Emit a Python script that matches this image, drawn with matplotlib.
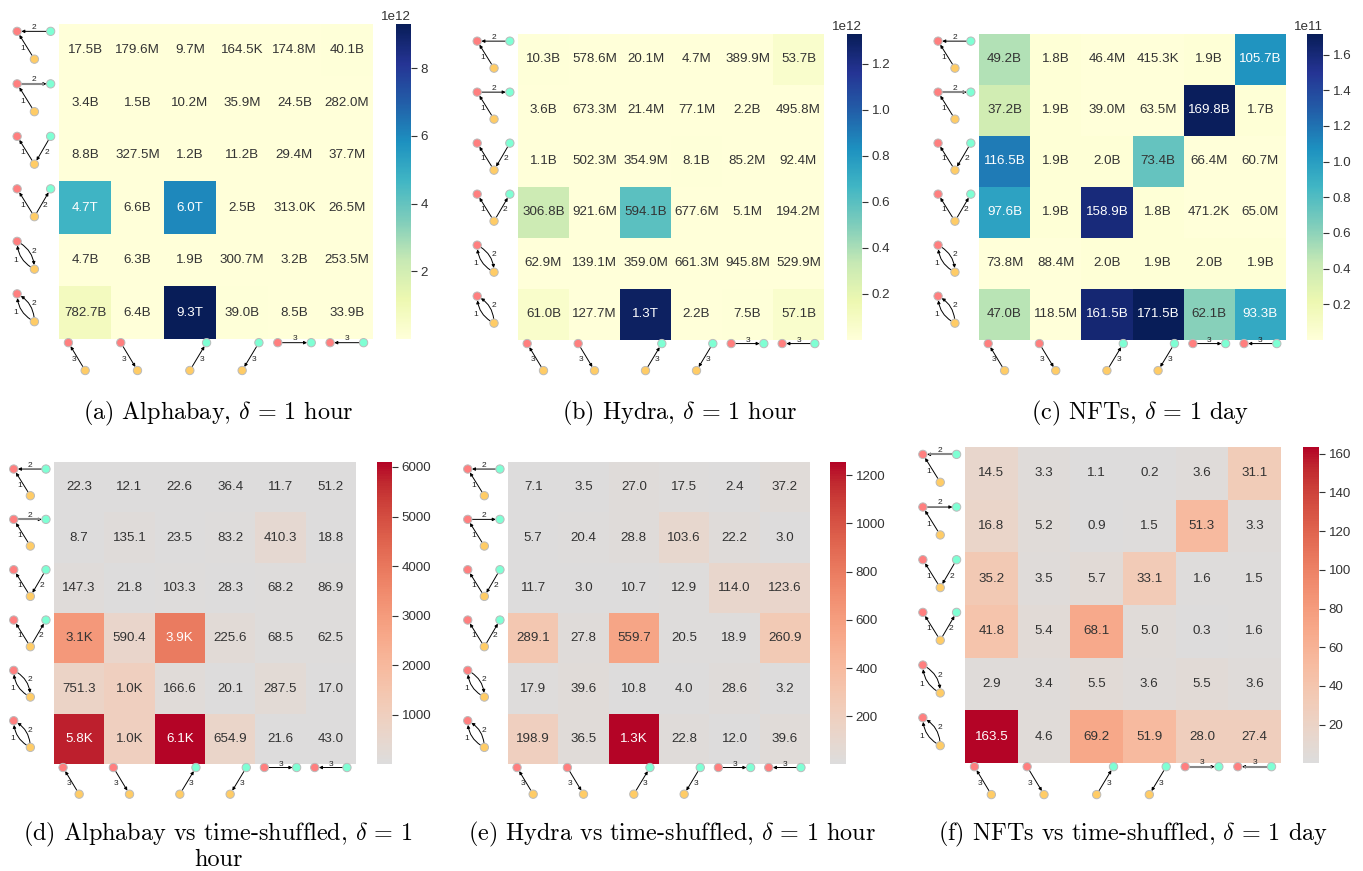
# heatmaps of motif counts, top row raw counts, bottom row vs time-shuffled
import numpy as np
import matplotlib
matplotlib.use('Agg')
import matplotlib.pyplot as plt
import seaborn as sns

plt.rcParams['font.family'] = ['Liberation Sans', 'DejaVu Sans']
plt.rcParams['mathtext.fontset'] = 'cm'
plt.rcParams['axes.formatter.use_mathtext'] = False

alphabay = [['17.5B', '179.6M', '9.7M', '164.5K', '174.8M', '40.1B'],
            ['3.4B', '1.5B', '10.2M', '35.9M', '24.5B', '282.0M'],
            ['8.8B', '327.5M', '1.2B', '11.2B', '29.4M', '37.7M'],
            ['4.7T', '6.6B', '6.0T', '2.5B', '313.0K', '26.5M'],
            ['4.7B', '6.3B', '1.9B', '300.7M', '3.2B', '253.5M'],
            ['782.7B', '6.4B', '9.3T', '39.0B', '8.5B', '33.9B']]
hydra = [['10.3B', '578.6M', '20.1M', '4.7M', '389.9M', '53.7B'],
         ['3.6B', '673.3M', '21.4M', '77.1M', '2.2B', '495.8M'],
         ['1.1B', '502.3M', '354.9M', '8.1B', '85.2M', '92.4M'],
         ['306.8B', '921.6M', '594.1B', '677.6M', '5.1M', '194.2M'],
         ['62.9M', '139.1M', '359.0M', '661.3M', '945.8M', '529.9M'],
         ['61.0B', '127.7M', '1.3T', '2.2B', '7.5B', '57.1B']]
nfts = [['49.2B', '1.8B', '46.4M', '415.3K', '1.9B', '105.7B'],
        ['37.2B', '1.9B', '39.0M', '63.5M', '169.8B', '1.7B'],
        ['116.5B', '1.9B', '2.0B', '73.4B', '66.4M', '60.7M'],
        ['97.6B', '1.9B', '158.9B', '1.8B', '471.2K', '65.0M'],
        ['73.8M', '88.4M', '2.0B', '1.9B', '2.0B', '1.9B'],
        ['47.0B', '118.5M', '161.5B', '171.5B', '62.1B', '93.3B']]
alphabay_sh = [['22.3', '12.1', '22.6', '36.4', '11.7', '51.2'],
               ['8.7', '135.1', '23.5', '83.2', '410.3', '18.8'],
               ['147.3', '21.8', '103.3', '28.3', '68.2', '86.9'],
               ['3.1K', '590.4', '3.9K', '225.6', '68.5', '62.5'],
               ['751.3', '1.0K', '166.6', '20.1', '287.5', '17.0'],
               ['5.8K', '1.0K', '6.1K', '654.9', '21.6', '43.0']]
hydra_sh = [['7.1', '3.5', '27.0', '17.5', '2.4', '37.2'],
            ['5.7', '20.4', '28.8', '103.6', '22.2', '3.0'],
            ['11.7', '3.0', '10.7', '12.9', '114.0', '123.6'],
            ['289.1', '27.8', '559.7', '20.5', '18.9', '260.9'],
            ['17.9', '39.6', '10.8', '4.0', '28.6', '3.2'],
            ['198.9', '36.5', '1.3K', '22.8', '12.0', '39.6']]
nfts_sh = [['14.5', '3.3', '1.1', '0.2', '3.6', '31.1'],
           ['16.8', '5.2', '0.9', '1.5', '51.3', '3.3'],
           ['35.2', '3.5', '5.7', '33.1', '1.6', '1.5'],
           ['41.8', '5.4', '68.1', '5.0', '0.3', '1.6'],
           ['2.9', '3.4', '5.5', '3.6', '5.5', '3.6'],
           ['163.5', '4.6', '69.2', '51.9', '28.0', '27.4']]

# colourbar tops (cell labels are rounded)
top_values = [9.3e12, 1.33e12, 1.715e11, 6100, 1254, 163.5]

captions = ['(a) Alphabay, $\\delta\\,=\\,1$ hour', '(b) Hydra, $\\delta\\,=\\,1$ hour',
            '(c) NFTs, $\\delta\\,=\\,1$ day', '(d) Alphabay vs time-shuffled, $\\delta\\,=\\,1$',
            '(e) Hydra vs time-shuffled, $\\delta\\,=\\,1$ hour', '(f) NFTs vs time-shuffled, $\\delta\\,=\\,1$ day']

RED = '#ff7f7f'
TEAL = '#7fffd4'
ORANGE = '#ffcc66'
W, H = 1363, 871


def to_num(s):
    mult = {'K': 1e3, 'M': 1e6, 'B': 1e9, 'T': 1e12}
    if s[-1] in mult:
        return float(s[:-1]) * mult[s[-1]]
    return float(s)


def box(x0, y0, x1, y1):
    # pixel box to figure fraction
    return [x0 / W, 1 - y1 / H, (x1 - x0) / W, (y1 - y0) / H]


def edge(ax, a, b, label, lpos, rad=0.0, thick=False):
    ax.annotate('', xy=b, xytext=a, annotation_clip=False, zorder=5,
                arrowprops=dict(arrowstyle='-|>,head_length=0.18,head_width=0.09', color='black', lw=0.7,
                                shrinkA=3, shrinkB=3, connectionstyle='arc3,rad=%g' % rad))
    if thick:
        # grey shaft, stops short of the arrow head
        end = b[0] - 0.14 * np.sign(b[0] - a[0])
        ax.plot([a[0], end], [a[1], b[1]], color='#888888', lw=1.5, clip_on=False, zorder=6)
    ax.text(lpos[0], lpos[1], label, fontsize=6, color='#222222', ha='center', va='center',
            clip_on=False, zorder=6)


def nodes(ax, pts, cols):
    ax.scatter([p[0] for p in pts], [p[1] for p in pts], s=36, c=cols, edgecolors='#bbbbbb',
               linewidths=0.7, clip_on=False, zorder=7)


def row_icon(ax, r, i, thick):
    red = (-0.8, r + 0.14)
    teal = (-0.16, r + 0.14)
    org = (-0.47, r + 0.67)
    if i < 2:
        edge(ax, org, red, '1', (-0.69, r + 0.47))
        if i == 0:
            edge(ax, teal, red, '2', (-0.47, r + 0.06), thick=thick == 0)
        else:
            edge(ax, red, teal, '2', (-0.47, r + 0.06), thick=thick == 1)
        nodes(ax, [red, teal, org], [RED, TEAL, ORANGE])
    elif i < 4:
        edge(ax, org, red, '1', (-0.69, r + 0.45))
        if i == 2:
            edge(ax, teal, org, '2', (-0.24, r + 0.45))
        else:
            edge(ax, org, teal, '2', (-0.26, r + 0.45))
        nodes(ax, [red, teal, org], [RED, TEAL, ORANGE])
    else:
        edge(ax, org, red, '1', (-0.83, r + 0.5), rad=-0.3)
        if i == 4:
            edge(ax, red, org, '2', (-0.47, r + 0.33), rad=-0.3)
        else:
            edge(ax, org, red, '2', (-0.47, r + 0.33), rad=0.3)
        nodes(ax, [red, org], [RED, ORANGE])


def col_icon(ax, c, i, thick):
    y_top = 6.07
    y_bot = 6.6
    red = (c + 0.18, y_top)
    teal = (c + 0.82, y_top)
    org = (c + 0.5, y_bot)
    if i == 0:
        edge(ax, org, red, '3', (c + 0.29, 6.39))
        nodes(ax, [red, org], [RED, ORANGE])
    elif i == 1:
        edge(ax, red, org, '3', (c + 0.24, 6.39))
        nodes(ax, [red, org], [RED, ORANGE])
    elif i == 2:
        edge(ax, org, teal, '3', (c + 0.73, 6.39))
        nodes(ax, [teal, org], [TEAL, ORANGE])
    elif i == 3:
        edge(ax, teal, org, '3', (c + 0.73, 6.39))
        nodes(ax, [teal, org], [TEAL, ORANGE])
    elif i == 4:
        edge(ax, red, teal, '3', (c + 0.5, y_top - 0.07), thick=thick)
        nodes(ax, [red, teal], [RED, TEAL])
    else:
        edge(ax, teal, red, '3', (c + 0.5, y_top - 0.07), thick=thick)
        nodes(ax, [red, teal], [RED, TEAL])


# labels, cmap, center, heatmap box, colourbar box, caption centre, row with grey edge
panels = [(alphabay, 'YlGnBu', None, (59, 24, 373, 339), (396, 24, 411, 339), (218, 413), 1),
          (hydra, 'YlGnBu', None, (518, 34, 824, 340), (847, 34, 862, 340), (680, 413), None),
          (nfts, 'YlGnBu', None, (979, 34, 1286, 340), (1307, 34, 1323, 340), (1140, 413), 1),
          (alphabay_sh, 'coolwarm', 0, (54, 462, 356, 764), (377, 462, 392, 764), (218, 834), 1),
          (hydra_sh, 'coolwarm', 0, (508, 462, 810, 764), (830, 462, 846, 764), (672, 834), None),
          (nfts_sh, 'coolwarm', 0, (965, 447, 1281, 763), (1303, 447, 1319, 763), (1133, 834), 0)]

fig = plt.figure(figsize=(W / 100, H / 100), dpi=100)

for k, (labels, cmap, center, hbox, cbox, cap, grey) in enumerate(panels):
    vals = np.array([[to_num(s) for s in row] for row in labels])
    ax = fig.add_axes(box(*hbox))
    cax = fig.add_axes(box(*cbox))
    sns.heatmap(vals, annot=np.array(labels), fmt='', cmap=cmap, center=center, vmax=top_values[k],
                ax=ax, cbar_ax=cax, annot_kws={'fontsize': 9.6}, xticklabels=False, yticklabels=False)
    for t in ax.texts:
        if t.get_color() != 'w':
            t.set_color('#333333')
    ax.tick_params(length=0)
    cax.tick_params(labelsize=9.6, length=4, width=0.8, color='#333333', labelcolor='#333333', pad=3)
    cax.yaxis.get_offset_text().set_fontsize(9.6)
    cax.yaxis.get_offset_text().set_color('#333333')
    for i in range(6):
        row_icon(ax, i, i, grey)
        col_icon(ax, i, i, k == 5)
    fig.text(cap[0] / W, 1 - cap[1] / H, captions[k], family=['cmr10', 'DejaVu Serif'], fontsize=17.4,
             ha='center', va='center')

# second line of caption (d)
fig.text(218 / W, 1 - 860 / H, 'hour', family=['cmr10', 'DejaVu Serif'], fontsize=17.4, ha='center', va='center')

fig.savefig('out.png', dpi=100)
